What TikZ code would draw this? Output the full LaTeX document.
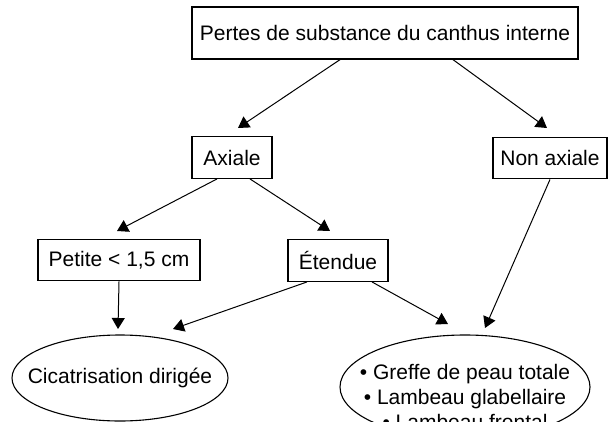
\documentclass[tikz,border=0pt]{standalone}
\usepackage{fontspec}
\setmainfont{Liberation Sans}
\usetikzlibrary{calc,arrows.meta}

\begin{document}
\begin{tikzpicture}[x=0.5pt,y=-0.5pt,
  font=\fontsize{10.5}{12.5}\selectfont,
  box/.style={draw,line width=0.65pt,inner sep=0pt,minimum height=20.8pt},
  ovaltext/.style={inner sep=0pt,align=center},
  oval/.style={line width=0.55pt},
  arr/.style={line width=0.5pt,-{Triangle[length=5.5pt,width=6.5pt]}}]
\useasboundingbox (0,0) rectangle (609,422);
\clip (0,0) rectangle (609,422);

\node[box,minimum width=193pt,minimum height=26pt](pertes) at (385,33){Pertes de substance du canthus interne};
\node[box,minimum width=40pt](axiale) at (232,157.5){Axiale};
\node[box,minimum width=57pt](nonaxiale) at (550,158){Non axiale};
\node[box,minimum width=81pt](petite) at (119,260){Petite < 1,5 cm};
\node[box,minimum width=50pt](etendue) at (338,260.5){Étendue};
\node[ovaltext](cicatrisation) at (120,378){Cicatrisation dirigée};
\node[ovaltext](greffe) at (465,397){• Greffe de peau totale\\[0.2pt]• Lambeau glabellaire\\[0.2pt]• Lambeau frontal};

% the two ovals
\draw[oval](cicatrisation.center) ellipse[x radius=54pt,y radius=21.5pt];
\draw[oval]($(greffe.center)+(0,-10)$) ellipse[x radius=62.5pt,y radius=26pt];

% arrow ends
\coordinate (tipaxiale) at (238,128);
\coordinate (tipnonaxiale) at (547,128);
\coordinate (tippetite) at (117,231);
\coordinate (tipetendue) at (330,231);
\coordinate (tipcica) at (118,329);
\coordinate (tipcicb) at (173,329);
\coordinate (tipgreffea) at (448,324);
\coordinate (tipgreffeb) at (485,328);

\draw[arr]($(pertes.south)+(-45,0)$)--(tipaxiale);
\draw[arr]($(pertes.south)+(68,0)$)--(tipnonaxiale);
\draw[arr]($(axiale.south)+(-15,0)$)--(tippetite);
\draw[arr]($(axiale.south)+(18,0)$)--(tipetendue);
\draw[arr](petite.south)--(tipcica);
\draw[arr]($(etendue.south)+(-31,0)$)--(tipcicb);
\draw[arr]($(etendue.south)+(34,0)$)--(tipgreffea);
\draw[arr](nonaxiale.south)--(tipgreffeb);
\end{tikzpicture}
\end{document}
